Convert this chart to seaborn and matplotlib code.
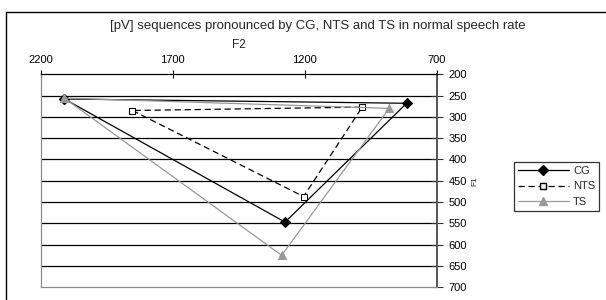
import pandas as pd
import matplotlib
matplotlib.use("Agg")
import matplotlib.pyplot as plt
from matplotlib.patches import Rectangle
from matplotlib.lines import Line2D
import seaborn as sns

# F2 / F1 values (Hz) for the vowels i, a, u of each group
cg_f2 = [2110, 1275, 815]
cg_f1 = [258, 547, 268]
nts_f2 = [1853, 1205, 983]
nts_f1 = [285, 487, 277]
ts_f2 = [2110, 1288, 881]
ts_f1 = [256, 625, 280]

groups = ["CG", "NTS", "TS"]
x_ticks = [2200, 1700, 1200, 700]
y_ticks = [200, 250, 300, 350, 400, 450, 500, 550, 600, 650, 700]

sns.set_style("white")
plt.rcParams["font.family"] = ["Liberation Sans", "DejaVu Sans"]
plt.rcParams["font.size"] = 8


def closed(f2, f1, name):
    """Triangle path: i -> a -> u -> back to i."""
    return pd.DataFrame({"F2": f2 + f2[:1], "F1": f1 + f1[:1], "group": name})


df = pd.concat([closed(cg_f2, cg_f1, "CG"),
                closed(nts_f2, nts_f1, "NTS"),
                closed(ts_f2, ts_f1, "TS")], ignore_index=True)

styles = {
    "CG": dict(color="black", linestyle="-", marker="D", markersize=5.5,
               markerfacecolor="black", markeredgecolor="black", linewidth=0.9),
    "NTS": dict(color="black", linestyle=(0, (5, 3)), marker="s", markersize=5,
                markerfacecolor="white", markeredgecolor="black", linewidth=0.9),
    "TS": dict(color="#999999", linestyle="-", marker="^", markersize=5.5,
               markerfacecolor="#999999", markeredgecolor="#999999", linewidth=0.9),
}

fig = plt.figure(figsize=(6.06, 3.0), dpi=100)
ax = fig.add_axes([40.7 / 606, 1 - 287.3 / 300, (437 - 40.7) / 606, (287.3 - 74.3) / 300])

for yv in y_ticks[1:-1]:
    ax.axhline(yv, color="black", linewidth=0.9, zorder=0)

for g in groups:
    sub = df[df["group"] == g]
    sns.lineplot(data=sub, x="F2", y="F1", sort=False, estimator=None,
                 ax=ax, legend=False, zorder=3, **styles[g])

ax.set_xlim(2200, 700)
ax.set_ylim(700, 200)
ax.set_xticks(x_ticks)
ax.set_yticks(y_ticks)
ax.xaxis.tick_top()
ax.xaxis.set_label_position("top")
ax.yaxis.tick_right()
ax.yaxis.set_label_position("right")
ax.tick_params(axis="x", direction="inout", length=6, width=0.8, pad=4,
               labelsize=8, colors="black", top=True, bottom=False)
ax.tick_params(axis="y", direction="inout", length=9, width=0.8, pad=4,
               labelsize=8, colors="#333333", labelcolor="black", right=True, left=False)
ax.set_xlabel("F2", fontsize=8.5, labelpad=5)
ax.set_ylabel("F1", fontsize=6, labelpad=3, rotation=90)

for side in ["left", "bottom"]:
    ax.spines[side].set_color("#8c8c8c")
    ax.spines[side].set_linewidth(0.9)
ax.spines["top"].set_color("black")
ax.spines["top"].set_linewidth(0.9)
ax.spines["right"].set_color("#555555")
ax.spines["right"].set_linewidth(1.4)

fig.text(318 / 606, 1 - 26 / 300, "[pV] sequences pronounced by CG, NTS and TS in normal speech rate",
         ha="center", va="center", fontsize=9.5)

handles = [Line2D([], [], label=g, **styles[g]) for g in groups]
leg = fig.legend(handles=handles, loc="upper left", bbox_to_anchor=(514 / 606, 1 - 162 / 300),
                 frameon=True, fancybox=False, handlelength=4.6, handletextpad=0.35,
                 borderpad=0.35, labelspacing=0.5, fontsize=8, borderaxespad=0)
leg.get_frame().set_edgecolor("black")
leg.get_frame().set_linewidth(0.9)

fig.patches.append(Rectangle((6 / 606, -0.1), 1.2, 1 - 12 / 300 + 0.1,
                             transform=fig.transFigure, fill=False,
                             edgecolor="black", linewidth=1.0))

fig.savefig("out.png", dpi=100)
